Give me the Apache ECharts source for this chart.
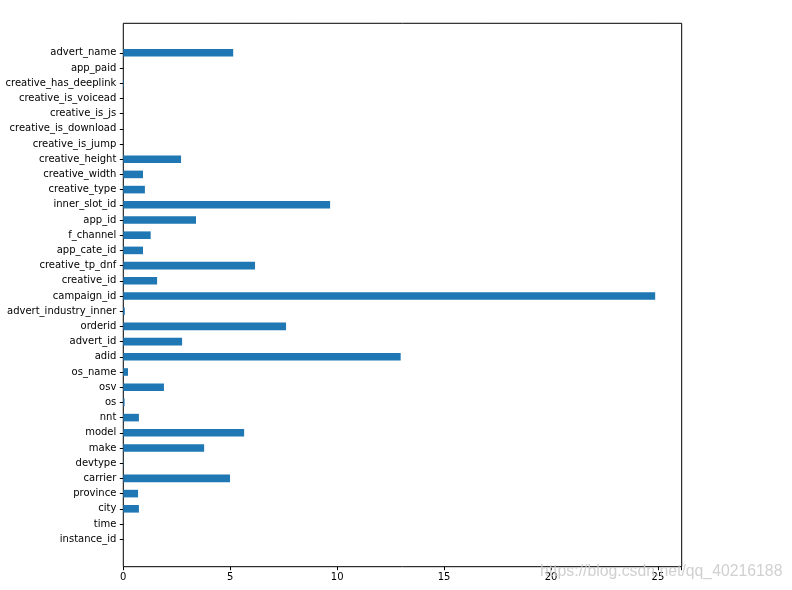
<!DOCTYPE html>
<html>
<head>
<meta charset="utf-8">
<script src="https://cdn.jsdelivr.net/npm/echarts@6/dist/echarts.min.js"></script>
<style>html,body{margin:0;padding:0;background:#fff;}#chart{width:792px;height:590px;}</style>
</head>
<body>
<div id="chart"></div>
<script>
const categories = ['instance_id','time','city','province','carrier','devtype','make','model','nnt','os','osv','os_name','adid','advert_id','orderid','advert_industry_inner','campaign_id','creative_id','creative_tp_dnf','app_cate_id','f_channel','app_id','inner_slot_id','creative_type','creative_width','creative_height','creative_is_jump','creative_is_download','creative_is_js','creative_is_voicead','creative_has_deeplink','app_paid','advert_name'];
const values = [0, 0, 0.73, 0.69, 4.99, 0.015, 3.78, 5.65, 0.73, 0.06, 1.90, 0.22, 12.97, 2.75, 7.61, 0.07, 24.87, 1.58, 6.16, 0.92, 1.28, 3.40, 9.67, 1.01, 0.92, 2.70, 0, 0, 0, 0, 0.02, 0, 5.14];
const xTicks = [0, 5, 10, 15, 20, 25];
const xMax = 26.11;

const chart = echarts.init(document.getElementById('chart'), null, {renderer: 'canvas'});
const font = 'DejaVu Sans';
const L = 123.3, R = 792 - 681.7, T = 23.3, B = 590 - 566.7;
const unit = (566.7 - 23.3) / 35.75;
const inner = (33.875 - 32.5) * unit;

chart.setOption({
  backgroundColor: '#ffffff',
  animation: false,
  grid: [
    {left: L, right: R, top: T, bottom: B, show: true, borderColor: '#000', borderWidth: 1, backgroundColor: 'transparent', containLabel: false},
    {left: L, right: R, top: T + inner + 1, bottom: B + inner - 1, containLabel: false}
  ],
  xAxis: [
    {type: 'value', gridIndex: 0, min: 0, max: xMax, interval: 5,
      axisLine: {show: false}, splitLine: {show: false},
      axisTick: {show: true, inside: false, length: 3.5, lineStyle: {color: '#000', width: 1}},
      axisLabel: {show: true, color: '#000', fontFamily: font, fontSize: 10, margin: 6,
        formatter: v => xTicks.indexOf(v) >= 0 ? String(v) : ''}},
    {type: 'value', gridIndex: 1, min: 0, max: xMax, show: false}
  ],
  yAxis: [
    {type: 'value', gridIndex: 0, min: 0, max: 1, show: false},
    {type: 'category', gridIndex: 1, data: categories, boundaryGap: true,
      axisLine: {show: false}, splitLine: {show: false},
      axisTick: {show: true, alignWithLabel: true, inside: false, length: 3.5, lineStyle: {color: '#000', width: 1}},
      axisLabel: {show: true, interval: 0, color: '#000', fontFamily: font, fontSize: 10, margin: 7}}
  ],
  series: [{
    type: 'bar', xAxisIndex: 1, yAxisIndex: 1,
    data: values, barWidth: unit * 0.5,
    itemStyle: {color: '#1f77b4'}
  }],
  graphic: [{
    type: 'text', left: 540, top: 564, z: 100,
    style: {text: 'https://blog.csdn.net/qq_40216188', fill: 'rgba(200,200,200,0.85)', font: '15.8px "Liberation Sans"'}
  }]
});
</script>
</body>
</html>
